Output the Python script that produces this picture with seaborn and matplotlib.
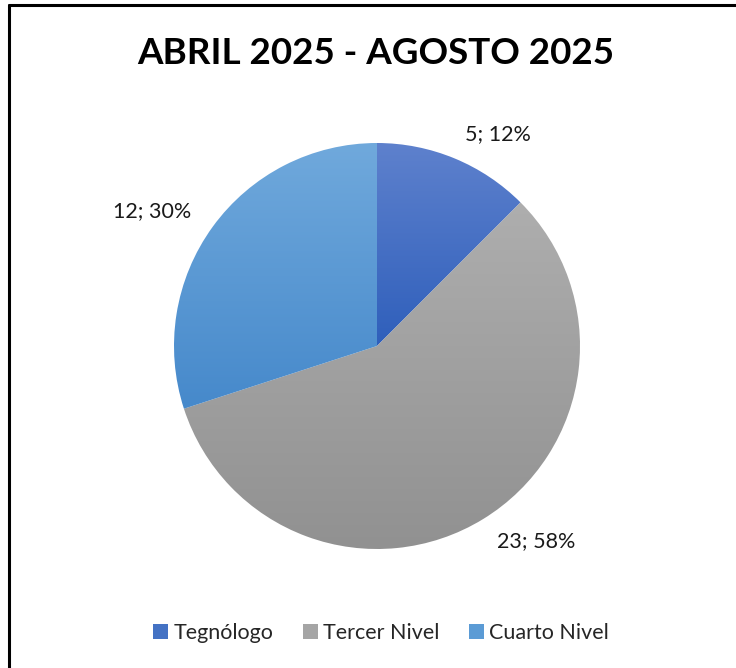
import numpy as np
import matplotlib
matplotlib.use("Agg")
import matplotlib.pyplot as plt
import seaborn as sns
from matplotlib.colors import LinearSegmentedColormap
from matplotlib.lines import Line2D
from matplotlib.patches import Patch

# Data
categories = ["Tegnólogo", "Tercer Nivel", "Cuarto Nivel"]
counts = [5, 23, 12]
title = "ABRIL 2025 - AGOSTO 2025"

# top / bottom colours of each slice's gradient
top_colors = ["#5E81CD", "#AEAEAE", "#70A9DC"]
bottom_colors = ["#2F5FBB", "#919191", "#4689CB"]
mid_colors = ["#4472C4", "#A5A5A5", "#5B9BD5"]

sns.set_style("white")
plt.rcParams["font.family"] = ["Lato", "DejaVu Sans"]

W, H = 736, 668
fig = plt.figure(figsize=(W / 100, H / 100), dpi=100)

# pie centre (377, 346) px, radius 203 px
cx, cy, r = 377, 346, 203
ax = fig.add_axes([(cx - r) / W, (H - cy - r) / H, 2 * r / W, 2 * r / H])

total = sum(counts)
labels = [f"{c}; {round(100 * c / total)}%" for c in counts]

wedges, texts = ax.pie(counts, labels=labels, startangle=90, counterclock=False,
                       labeldistance=1.13, radius=1,
                       textprops={"fontsize": 15.5, "color": "#1a1a1a"})
ax.set_aspect("equal")
ax.axis("off")

# vertical gradient fill clipped to every wedge
grad = np.linspace(1, 0, 256).reshape(-1, 1)
for w, top, bot in zip(wedges, top_colors, bottom_colors):
    w.set_facecolor("none")
    w.set_edgecolor("none")
    ext = w.get_path().get_extents(w.get_patch_transform())
    cmap = LinearSegmentedColormap.from_list("g", [bot, top])
    im = ax.imshow(grad, cmap=cmap, aspect="auto",
                   extent=[ext.x0, ext.x1, ext.y0, ext.y1], zorder=0.5)
    im.set_clip_path(w)
ax.set_xlim(-1, 1)
ax.set_ylim(-1, 1)

fig.text(376 / W, 1 - 54 / H, title, ha="center", va="center",
         fontsize=26.5, fontweight="bold", color="black")

handles = [Patch(facecolor=c, edgecolor="none") for c in mid_colors]
fig.legend(handles, categories, loc="center", bbox_to_anchor=(381 / W, 1 - 633 / H),
           ncol=3, frameon=False, fontsize=15.5, handlelength=0.7, handleheight=0.7,
           handletextpad=0.25, columnspacing=1.35)

# chart border (top and left edges visible in the crop)
fig.add_artist(Line2D([9 / W, 9 / W], [0, 1 - 5 / H], color="black", lw=2.2,
                      transform=fig.transFigure))
fig.add_artist(Line2D([9 / W, 1], [1 - 5 / H, 1 - 5 / H], color="black", lw=2.2,
                      transform=fig.transFigure))

fig.savefig("out.png", dpi=100, facecolor="white")
